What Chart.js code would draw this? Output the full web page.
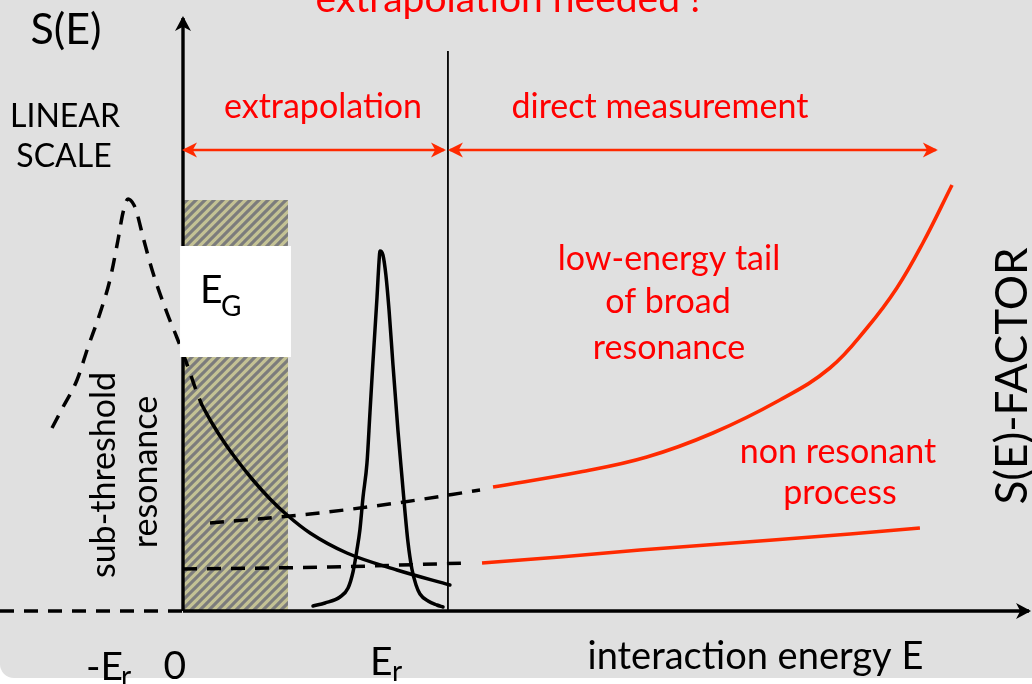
<!DOCTYPE html>
<html>
<head>
<meta charset="utf-8">
<title>S(E)-factor: extrapolation needed</title>
<script src="https://cdn.jsdelivr.net/npm/chart.js@4.4.1/dist/chart.umd.min.js"></script>
<style>
  html, body { margin: 0; padding: 0; background: #ffffff; }
  canvas { display: block; }
</style>
</head>
<body>
<canvas id="chart" width="1032" height="684"></canvas>
<script>
// Energy E is given in units of the resonance energy Er, S in arbitrary units.

// sub-threshold resonance (dashed, peaks at -Er)
const subThresholdE = [-0.665, -0.609, -0.538, -0.482, -0.421, -0.371, -0.330, -0.305, -0.279, -0.249,
                       -0.234, -0.203, -0.152, -0.081, -0.030, 0.005, 0.036, 0.066, 0.096];
const subThresholdS = [1.83, 2.04, 2.31, 2.64, 2.98, 3.31, 3.71, 3.98, 4.12, 4.06,
                       3.98, 3.74, 3.38, 2.98, 2.73, 2.55, 2.38, 2.21, 2.06];

// its high-energy tail at E > 0 (solid)
const tailE = [0.096, 0.147, 0.208, 0.274, 0.355, 0.442, 0.528, 0.645, 0.832, 1.086, 1.355];
const tailS = [2.06, 1.88, 1.69, 1.51, 1.31, 1.12, 0.96, 0.78, 0.58, 0.41, 0.26];

// narrow resonance at Er
const narrowE = [0.660, 0.721, 0.797, 0.838, 0.863, 0.883, 0.898, 0.914, 0.934, 0.949, 0.964, 0.985, 0.995, 1.000,
                 1.015, 1.030, 1.046, 1.066, 1.091, 1.112, 1.127, 1.142, 1.162, 1.183, 1.203, 1.244, 1.289, 1.320];
const narrowS = [0.05, 0.08, 0.14, 0.23, 0.39, 0.61, 0.81, 1.14, 1.48, 1.98, 2.48, 3.14, 3.49, 3.60,
                 3.56, 3.36, 3.01, 2.46, 1.81, 1.33, 0.99, 0.69, 0.42, 0.26, 0.17, 0.10, 0.06, 0.04];

// low-energy tail of a broad resonance: measured part and its extrapolation
const broadMeasuredE = [1.574, 2.015, 2.355, 2.690, 3.030, 3.284, 3.472, 3.624, 3.756, 3.904];
const broadMeasuredS = [1.24, 1.39, 1.54, 1.78, 2.11, 2.43, 2.83, 3.23, 3.68, 4.26];
const broadExtrapE = [0.137, 0.645, 1.086, 1.508];
const broadExtrapS = [0.88, 0.97, 1.08, 1.21];

// non-resonant process: measured part and its extrapolation
const nonResMeasuredE = [1.518, 1.914, 2.320, 2.995, 3.386, 3.741];
const nonResMeasuredS = [0.48, 0.54, 0.61, 0.71, 0.77, 0.83];
const nonResExtrapE = [0.000, 0.746, 1.442];
const nonResExtrapS = [0.42, 0.44, 0.48];

// axes, the lowest measured energy and the range arrows
const energyAxisE = [0, 4.295];
const energyAxisS = [0, 0];
const negativeAxisE = [-0.929, 0];
const negativeAxisS = [0, 0];
const sAxisE = [0, 0];
const sAxisS = [0, 5.93];
const thresholdE = [1.345, 1.345];
const thresholdS = [0, 5.60];
const extrapRangeE = [0.005, 1.325];
const directRangeE = [1.355, 3.822];
const rangeArrowS = [4.61, 4.61];

// Gamow window (hatched) and the box carrying its label
const gamowE = [0, 0.533];
const gamowTopS = [4.11, 4.11];
const gamowBoxE = [-0.015, 0.548];
const gamowBoxS = [3.65, 2.54];

// visible range of both scales
const X_MIN = -0.929, X_MAX = 4.310;
const Y_MIN = -0.73, Y_MAX = 6.11;

const BLACK = '#000000';
const RED_LINE = '#ff2a00';
const RED_TEXT = '#ff0000';
const DASH = [14, 10];

function points(es, ss) {
  return es.map((e, i) => ({ x: e, y: ss[i] }));
}

// diagonal khaki/grey stripes for the Gamow window
function stripes() {
  const s = 9;
  const c = document.createElement('canvas');
  c.width = s; c.height = s;
  const p = c.getContext('2d');
  p.fillStyle = '#c4c295';
  p.fillRect(0, 0, s, s);
  p.strokeStyle = '#7c7c7c';
  p.lineWidth = 3.1;
  [0, s, 2 * s].forEach(k => {
    p.beginPath();
    p.moveTo(k + s, -s);
    p.lineTo(-s, k + s);
    p.stroke();
  });
  return p.createPattern(c, 'repeat');
}

function line(data, color, width, extra) {
  return Object.assign({
    data: data,
    showLine: true,
    borderColor: color,
    borderWidth: width,
    backgroundColor: color,
    pointRadius: 0,
    fill: false,
    cubicInterpolationMode: 'monotone',
    borderJoinStyle: 'round',
    order: 5
  }, extra || {});
}

const datasets = [
  // box with the Gamow-window label, on top of everything
  line(points(gamowBoxE, [gamowBoxS[0], gamowBoxS[0]]), '#ffffff', 0,
       { fill: { value: gamowBoxS[1] }, backgroundColor: '#ffffff', order: 1 }),
  // range arrows
  line(points(extrapRangeE, rangeArrowS), RED_LINE, 2.7, { arrowHeads: ['start', 'end'], arrowSize: [15, 7.5], order: 3 }),
  line(points(directRangeE, rangeArrowS), RED_LINE, 2.7, { arrowHeads: ['start', 'end'], arrowSize: [15, 7.5], order: 3 }),
  // axes
  line(points(energyAxisE, energyAxisS), BLACK, 3.4, { arrowHeads: ['end'], arrowSize: [15, 8], order: 3 }),
  line(points(negativeAxisE, negativeAxisS), BLACK, 3.4, { borderDash: DASH, order: 3 }),
  line(points(sAxisE, sAxisS), BLACK, 3.4, { arrowHeads: ['end'], arrowSize: [15, 8], order: 3 }),
  line(points(thresholdE, thresholdS), BLACK, 1.8, { order: 3 }),
  // curves
  line(points(subThresholdE, subThresholdS), BLACK, 3.5, { borderDash: DASH }),
  line(points(tailE, tailS), BLACK, 3.5, { borderCapStyle: 'round' }),
  line(points(narrowE, narrowS), BLACK, 3.5, { borderCapStyle: 'round' }),
  line(points(broadExtrapE, broadExtrapS), BLACK, 3.5, { borderDash: DASH }),
  line(points(nonResExtrapE, nonResExtrapS), BLACK, 3.5, { borderDash: DASH }),
  line(points(broadMeasuredE, broadMeasuredS), RED_LINE, 3.6, { cubicInterpolationMode: 'default', tension: 0.4 }),
  line(points(nonResMeasuredE, nonResMeasuredS), RED_LINE, 3.6, { cubicInterpolationMode: 'default', tension: 0.4 }),
  // hatched Gamow window, underneath
  line(points(gamowE, gamowTopS), '#c4c295', 0, { fill: 'origin', backgroundColor: null, hatch: true, order: 9 })
];

const labels = [
  { text: 'extrapolation needed !', e: 1.650, s: 5.99, font: '39px Lato', color: RED_TEXT },
  { text: 'S(E)', e: -0.594, s: 5.67, font: '43px Lato', color: BLACK },
  { text: 'LINEAR', e: -0.599, s: 4.84, font: '32px Lato', color: BLACK },
  { text: 'SCALE', e: -0.604, s: 4.44, font: '32px Lato', color: BLACK },
  { text: 'extrapolation', e: 0.711, s: 4.93, font: '34px Lato', color: RED_TEXT },
  { text: 'direct measurement', e: 2.421, s: 4.93, font: '34px Lato', color: RED_TEXT },
  { text: 'low-energy tail', e: 2.467, s: 3.41, font: '34px Lato', color: RED_TEXT },
  { text: 'of broad', e: 2.462, s: 2.98, font: '34px Lato', color: RED_TEXT },
  { text: 'resonance', e: 2.467, s: 2.52, font: '34px Lato', color: RED_TEXT },
  { text: 'non resonant', e: 3.325, s: 1.48, font: '34px Lato', color: RED_TEXT },
  { text: 'process', e: 3.335, s: 1.07, font: '34px Lato', color: RED_TEXT },
  { text: 'E', e: 0.086, s: 3.08, font: '39px Lato', color: BLACK, align: 'left' },
  { text: 'G', e: 0.193, s: 2.95, font: '28px Lato', color: BLACK, align: 'left' },
  { text: 'sub-threshold', e: -0.345, s: 1.36, font: '34px Lato', color: BLACK, rotate: true },
  { text: 'resonance', e: -0.132, s: 1.39, font: '34px Lato', color: BLACK, rotate: true },
  { text: 'S(E)-FACTOR', e: 4.284, s: 2.35, font: '44px Lato', color: BLACK, rotate: true },
  { text: '-E', e: -0.492, s: -0.69, font: '39px Lato', color: BLACK, align: 'left' },
  { text: 'r', e: -0.315, s: -0.75, font: '28px Lato', color: BLACK, align: 'left' },
  { text: '0', e: -0.041, s: -0.68, font: '39px Lato', color: BLACK },
  { text: 'E', e: 0.949, s: -0.64, font: '39px Lato', color: BLACK, align: 'left' },
  { text: 'r', e: 1.061, s: -0.70, font: '28px Lato', color: BLACK, align: 'left' },
  { text: 'interaction energy E', e: 2.906, s: -0.58, font: '38px Lato', color: BLACK }
];

// slide background: light grey panel with a rounded lower-left corner
const panel = {
  id: 'panel',
  beforeDraw(chart) {
    const { ctx, width, height } = chart;
    const bottom = 678, r = 14;
    ctx.save();
    ctx.fillStyle = '#ffffff';
    ctx.fillRect(0, 0, width, height);
    ctx.fillStyle = '#e0e0e0';
    ctx.beginPath();
    ctx.moveTo(0, 0);
    ctx.lineTo(width, 0);
    ctx.lineTo(width, bottom);
    ctx.lineTo(r, bottom);
    ctx.arcTo(0, bottom, 0, bottom - r, r);
    ctx.closePath();
    ctx.fill();
    ctx.restore();
  }
};

// barbed arrow heads at the ends of flagged lines
const arrowHeads = {
  id: 'arrowHeads',
  afterDatasetsDraw(chart) {
    const ctx = chart.ctx;
    chart.data.datasets.forEach((ds, i) => {
      if (!ds.arrowHeads) return;
      const pts = chart.getDatasetMeta(i).data;
      const n = pts.length;
      const [len, half] = ds.arrowSize;
      ds.arrowHeads.forEach(where => {
        const a = where === 'end' ? pts[n - 2] : pts[1];
        const b = where === 'end' ? pts[n - 1] : pts[0];
        const ang = Math.atan2(b.y - a.y, b.x - a.x);
        ctx.save();
        ctx.translate(b.x, b.y);
        ctx.rotate(ang);
        ctx.translate(2, 0);
        ctx.beginPath();
        ctx.moveTo(0, 0);
        ctx.lineTo(-len, -half);
        ctx.lineTo(-len * 0.72, 0);
        ctx.lineTo(-len, half);
        ctx.closePath();
        ctx.fillStyle = ds.borderColor;
        ctx.fill();
        ctx.restore();
      });
    });
  }
};

// text placed in data coordinates
const textLabels = {
  id: 'textLabels',
  afterDatasetsDraw(chart) {
    const ctx = chart.ctx;
    const xs = chart.scales.x, ys = chart.scales.y;
    labels.forEach(l => {
      const px = xs.getPixelForValue(l.e);
      const py = ys.getPixelForValue(l.s);
      ctx.save();
      ctx.font = l.font;
      ctx.fillStyle = l.color;
      ctx.textBaseline = 'alphabetic';
      ctx.textAlign = l.align || 'center';
      ctx.translate(px, py);
      if (l.rotate) ctx.rotate(-Math.PI / 2);
      ctx.fillText(l.text, 0, 0);
      ctx.restore();
    });
  }
};

const canvas = document.getElementById('chart');
const ctx = canvas.getContext('2d');
const hatch = stripes();
datasets.forEach(ds => { if (ds.hatch) ds.backgroundColor = hatch; });

new Chart(ctx, {
  type: 'scatter',
  data: { datasets: datasets },
  options: {
    responsive: false,
    animation: false,
    events: [],
    devicePixelRatio: 1,
    layout: { padding: 0 },
    elements: { point: { radius: 0, hoverRadius: 0 } },
    plugins: {
      legend: { display: false },
      tooltip: { enabled: false },
      title: { display: false }
    },
    scales: {
      x: { type: 'linear', min: X_MIN, max: X_MAX, display: false },
      y: { type: 'linear', min: Y_MIN, max: Y_MAX, display: false }
    }
  },
  plugins: [panel, arrowHeads, textLabels]
});
</script>
</body>
</html>
